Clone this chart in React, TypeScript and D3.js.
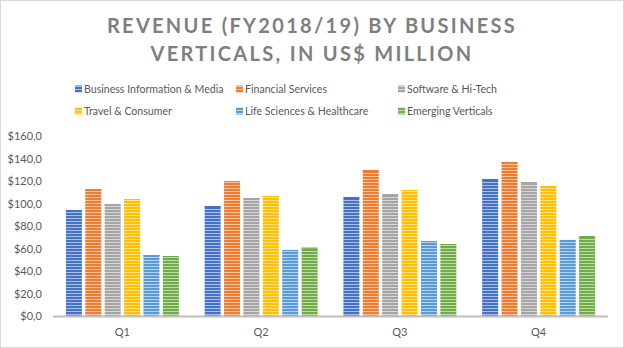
import React from "react";
import * as d3 from "d3";

const quarters = ["Q1", "Q2", "Q3", "Q4"];
const seriesNames = [
  "Business Information & Media",
  "Financial Services",
  "Software & Hi-Tech",
  "Travel & Consumer",
  "Life Sciences & Healthcare",
  "Emerging Verticals",
];
const seriesColors = ["#4472C4", "#ED7D31", "#A5A5A5", "#FFC000", "#5B9BD5", "#70AD47"];
const businessInfo = [94.2, 97.8, 105.8, 121.8];
const financial = [112.9, 120.0, 129.8, 136.9];
const software = [99.6, 104.9, 108.4, 119.1];
const travel = [104.0, 106.7, 112.0, 115.6];
const lifeSci = [54.2, 58.7, 66.7, 67.6];
const emerging = [53.3, 60.7, 64.0, 71.1];
const seriesValues = [businessInfo, financial, software, travel, lifeSci, emerging];
const yTicks = [0, 20, 40, 60, 80, 100, 120, 140, 160];
const titleLines = ["REVENUE (FY2018/19)  BY BUSINESS", "VERTICALS, IN US$ MILLION"];

const W = 624;
const H = 348;
const plotLeft = 53;
const plotRight = 608;
const plotTop = 136;
const plotBottom = 316;

export default function App() {
  const x0 = d3.scaleBand<string>().domain(quarters).range([plotLeft, plotRight]).paddingInner(0.186).paddingOuter(0.093);
  const x1 = d3.scaleBand<number>().domain(d3.range(seriesNames.length)).range([0, x0.bandwidth()]).paddingInner(0.175).paddingOuter(0);
  const y = d3.scaleLinear().domain([0, 160]).range([plotBottom, plotTop]);
  const fmt = (v: number) => "$" + d3.format(".1f")(v).replace(".", ",");

  const legendCols = [75, 236, 398];
  const legendRows = [89, 111];

  return (
    <svg width={W} height={H} style={{ position: "absolute", left: 0, top: 0, fontFamily: "Lato, sans-serif" }}>
      <defs>
        {seriesColors.map((c, i) => (
          <pattern key={i} id={`stripe${i}`} width={4} height={3} patternUnits="userSpaceOnUse">
            <rect width={4} height={3} fill={c} />
            <rect y={2} width={4} height={1} fill="#ffffff" opacity={0.55} />
          </pattern>
        ))}
      </defs>
      <rect x={0.5} y={0.5} width={W - 1} height={H - 1} fill="#ffffff" stroke="#d9d9d9" />
      {titleLines.map((t, i) => (
        <text key={i} x={W / 2} y={32.5 + i * 28} textAnchor="middle" fontSize={20} fontWeight="bold" fill="#7f7f7f" letterSpacing={2.3}>
          {t}
        </text>
      ))}
      {seriesNames.map((n, i) => {
        const lx = legendCols[i % 3];
        const ly = legendRows[Math.floor(i / 3)];
        return (
          <g key={n}>
            <rect x={lx} y={ly - 3.5} width={7} height={7} fill={`url(#stripe${i})`} />
            <text x={lx + 9} y={ly + 3.5} fontSize={10.6} fill="#595959">
              {n}
            </text>
          </g>
        );
      })}
      {yTicks.map((t) => (
        <text key={t} x={42} y={y(t) + 4} textAnchor="end" fontSize={11} fill="#595959">
          {fmt(t)}
        </text>
      ))}
      {quarters.map((q, qi) => (
        <g key={q} transform={`translate(${x0(q)},0)`}>
          {seriesValues.map((vals, si) => (
            <g key={si}>
              <rect x={x1(si)} y={y(vals[qi])} width={x1.bandwidth()} height={plotBottom - y(vals[qi])} fill={`url(#stripe${si})`} />
              <rect x={x1(si)} y={y(vals[qi])} width={x1.bandwidth()} height={1} fill={seriesColors[si]} />
            </g>
          ))}
          <text x={x0.bandwidth() / 2} y={336} textAnchor="middle" fontSize={11} fill="#595959">
            {q}
          </text>
        </g>
      ))}
      <line x1={plotLeft} x2={plotRight} y1={plotBottom + 0.5} y2={plotBottom + 0.5} stroke="#bfbfbf" strokeWidth={2} />
    </svg>
  );
}
